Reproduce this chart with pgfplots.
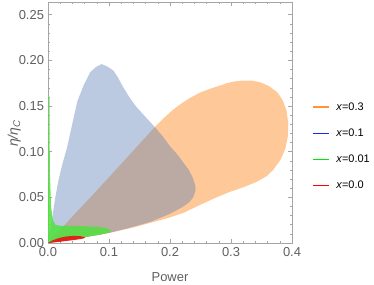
\documentclass[border=0pt]{standalone}
\usepackage{fontspec}
\setmainfont{Liberation Sans}
\usepackage{pgfplots}
\pgfplotsset{compat=1.18}
\definecolor{framegray}{RGB}{165,165,165}
\definecolor{textgray}{RGB}{95,95,95}
\definecolor{bluebase}{RGB}{94,129,181}
\definecolor{orangebase}{RGB}{255,140,40}
\definecolor{greenbase}{RGB}{80,225,60}
\definecolor{redbase}{RGB}{230,20,20}
\definecolor{legorange}{RGB}{255,150,50}
\definecolor{legblue}{RGB}{20,40,255}
\definecolor{leggreen}{RGB}{0,230,0}
\definecolor{legred}{RGB}{255,0,0}
\begin{document}
\begin{tikzpicture}
\begin{axis}[
  name=ax,
  scale only axis, width=244bp, height=241bp,
  xmin=0, xmax=0.4, ymin=0, ymax=0.264,
  xtick={0,0.1,0.2,0.3,0.4}, ytick={0,0.05,0.1,0.15,0.2,0.25},
  minor x tick num=4, minor y tick num=4,
  tick align=inside, xtick pos=both, ytick pos=both,
  major tick length=4bp, minor tick length=2.2bp,
  axis line style={framegray, line width=0.8pt},
  every tick/.style={framegray, line width=0.6pt},
  /pgf/number format/assume math mode=true,
  xticklabel style={/pgf/number format/.cd, fixed, fixed zerofill, precision=1, /tikz/.cd, yshift=-1bp},
  yticklabel style={/pgf/number format/.cd, fixed, fixed zerofill, precision=2, /tikz/.cd, xshift=-0.5bp},
  ticklabel style={font=\fontsize{13}{15}\selectfont, text=textgray},
  xlabel={Power},
  xlabel style={at={(axis description cs:0.5,-0.143)}, anchor=center, font=\fontsize{13}{15}\selectfont, text=textgray},
  legend style={draw=none, fill=none, at={(axis description cs:1.068,0.60)}, anchor=north west,
    font=\fontsize{11}{13}\selectfont, row sep=13bp,
    /tikz/every even column/.append style={column sep=0pt}},
  legend cell align=left,
  legend image code/.code={\draw[#1] (0bp,0bp) -- (16bp,0bp);},
  clip=false,
]
\addlegendimage{legorange, line width=1.5bp}\addlegendentry{\hspace{5bp}\textit{x}=0.3}
\addlegendimage{legblue, line width=1.5bp}\addlegendentry{\hspace{5bp}\textit{x}=0.1}
\addlegendimage{leggreen, line width=1.5bp}\addlegendentry{\hspace{5bp}\textit{x}=0.01}
\addlegendimage{legred, line width=1.5bp}\addlegendentry{\hspace{5bp}\textit{x}=0.0}

% x = 0.3
\addplot[draw=none, fill=orangebase, fill opacity=0.48] coordinates {
(0,0) (0.05,0.005) (0.1,0.011) (0.14,0.017) (0.167,0.022) (0.195,0.027) (0.222,0.033)
(0.25,0.042) (0.276,0.050) (0.298,0.056) (0.32,0.061) (0.342,0.067) (0.358,0.073)
(0.369,0.080) (0.381,0.091) (0.389,0.103) (0.393,0.116) (0.394,0.131) (0.391,0.145)
(0.385,0.156) (0.376,0.165) (0.362,0.172) (0.348,0.176) (0.334,0.178) (0.32,0.178)
(0.306,0.177) (0.293,0.175) (0.28,0.172) (0.266,0.169) (0.25,0.165) (0.233,0.159)
(0.219,0.153) (0.205,0.146) (0.19,0.137) (0.175,0.127) (0.13,0.094) (0.082,0.059)
(0.04,0.029) (0,0)
};
% x = 0.1
\addplot[draw=none, fill=bluebase, fill opacity=0.42] coordinates {
(0,0) (0.004,0.016) (0.008,0.032) (0.012,0.050) (0.017,0.068) (0.023,0.085) (0.031,0.104)
(0.039,0.128) (0.048,0.155) (0.058,0.172) (0.069,0.187) (0.079,0.193) (0.088,0.196)
(0.098,0.193) (0.107,0.189) (0.115,0.181) (0.123,0.171) (0.134,0.159) (0.145,0.149)
(0.16,0.138) (0.175,0.127) (0.188,0.117) (0.200,0.106) (0.212,0.097) (0.222,0.088)
(0.231,0.080) (0.237,0.072) (0.241,0.064) (0.242,0.058) (0.238,0.050) (0.232,0.045)
(0.222,0.040) (0.2,0.032) (0.167,0.023) (0.13,0.016) (0.1,0.011) (0.05,0.005) (0,0)
};
% x = 0.01
\addplot[draw=none, fill=greenbase, fill opacity=0.85] coordinates {
(0,0) (0.0005,0.08) (0.001,0.16) (0.0025,0.16) (0.003,0.08) (0.005,0.04) (0.008,0.025)
(0.012,0.020) (0.02,0.0188) (0.04,0.0186) (0.06,0.0184) (0.08,0.0177) (0.095,0.0165)
(0.104,0.0140) (0.1,0.0115) (0.085,0.009) (0.06,0.0065) (0.04,0.0042) (0.02,0.002) (0,0)
};
% x = 0.0
\addplot[draw=none, fill=redbase, fill opacity=0.92] coordinates {
(0,0) (0.008,0.003) (0.018,0.0055) (0.03,0.0072) (0.042,0.0078) (0.053,0.0075)
(0.06,0.0065) (0.061,0.0055) (0.055,0.0045) (0.045,0.0035) (0.03,0.0022) (0.015,0.001) (0,0)
};
\node[rotate=90, anchor=center, font=\fontsize{14}{16}\selectfont, text=textgray]
  at (axis description cs:-0.138,0.455) {\itshape η/η\textsubscript{C}};
\end{axis}
\pgfresetboundingbox
\path[use as bounding box] ([shift={(-48bp,-41bp)}]ax.south west) rectangle ([shift={(82bp,2bp)}]ax.north east);
\end{tikzpicture}
\end{document}
